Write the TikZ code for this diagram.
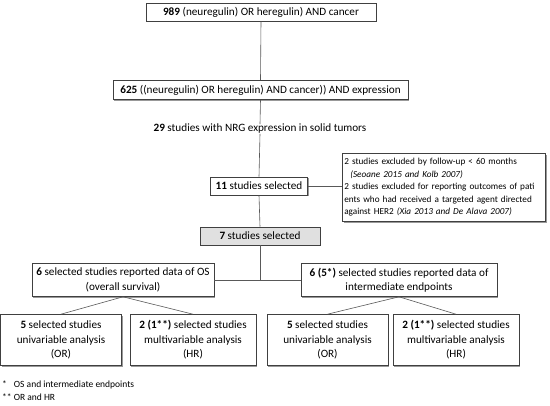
\documentclass[tikz,border=0pt]{standalone}
\usepackage{fontspec}
\setmainfont{Carlito}
\usetikzlibrary{shadows,calc}
\begin{document}
\begin{tikzpicture}[x=1pt,y=-1pt,
  box/.style={draw=black!75, fill=white, line width=0.6pt, rectangle, inner sep=0pt, align=center,
    font=\fontsize{11.2}{14.5}\selectfont,
    drop shadow={shadow xshift=1.3pt, shadow yshift=-1.3pt, fill=black!40, opacity=1}},
  graybox/.style={box, fill=black!12},
  note/.style={draw=black!75, fill=white, line width=0.6pt, rectangle, inner sep=0pt, align=left,
    font=\fontsize{9.2}{12.5}\selectfont,
    drop shadow={shadow xshift=1.3pt, shadow yshift=-1.3pt, fill=black!40, opacity=1}},
  plain/.style={inner sep=0pt, font=\fontsize{11.2}{14.5}\selectfont},
  foot/.style={inner sep=0pt, anchor=west, font=\fontsize{9.5}{12}\selectfont},
  conn/.style={draw=black!65, line width=0.6pt}]
\useasboundingbox (0,0) rectangle (550,406);
\fill[white] (0,0) rectangle (550,406);

\node[box, minimum width=230, minimum height=18] (b1) at (261,12) {\textbf{989} (neuregulin) OR heregulin) AND cancer};
\node[box, minimum width=295, minimum height=19] (b2) at (260.5,90) {\textbf{625} ((neuregulin) OR heregulin) AND cancer)) AND expression};
\node[plain] (t29) at (260,129) {\textbf{29} studies with NRG expression in solid tumors};
\node[box, minimum width=97, minimum height=18] (b3) at (259,186) {\textbf{11} studies selected};
\node[note, minimum width=203, minimum height=68, text width=199, anchor=north west] (ex) at (342,153)
 {2 studies excluded by follow-up < 60 months\\
  \hspace*{6pt}\textit{(Seoane 2015 and Kolb 2007)}\\
  2 studies excluded for reporting outcomes of pati\\
  ents who had received a targeted agent directed\\
  against HER2 \textit{(Xia 2013 and De Alava 2007)}};
\node[graybox, minimum width=120, minimum height=18] (b4) at (260,236) {\textbf{7} studies selected};

\node[box, minimum width=182, minimum height=33] (b5) at (123,280) {\textbf{6} selected studies reported data of OS\\(overall survival)};
\node[box, minimum width=196, minimum height=33] (b6) at (399,280) {\textbf{6 (5*)} selected studies reported data of\\intermediate endpoints};

\node[box, minimum width=121, minimum height=51] (b7) at (61,340) {\textbf{5} selected studies\\univariable analysis\\(OR)};
\node[box, minimum width=126, minimum height=51] (b8) at (193,340) {\textbf{2 (1**)} selected studies\\multivariable analysis\\(HR)};
\node[box, minimum width=121, minimum height=51] (b9) at (327.5,340) {\textbf{5} selected studies\\univariable analysis\\(OR)};
\node[box, minimum width=126, minimum height=51] (b10) at (456,340) {\textbf{2 (1**)} selected studies\\multivariable analysis\\(HR)};

\node[foot] (f1) at (2,385) {*\hspace{7pt}OS and intermediate endpoints};
\node[foot] (f2) at (2,397) {** OR and HR};

\coordinate (j1) at (b4.south |- b5.east);
\draw[conn] (b1.south) -- (b2.north);
\draw[conn] (b2.south) -- (t29.north);
\draw[conn] (t29.south) -- (b3.north);
\draw[conn] (b3.east) -- (b3.east -| ex.west);
\draw[conn] (b3.south) -- (b4.north);
\draw[conn] (b4.south) -- (j1);
\draw[conn] (b5.east) -- (b6.west);
\draw[conn] (b5.south) -- (b7.north);
\draw[conn] (b5.south) -- (b8.north);
\draw[conn] (b6.south) -- (b9.north);
\draw[conn] (b6.south) -- (b10.north);
\end{tikzpicture}
\end{document}
